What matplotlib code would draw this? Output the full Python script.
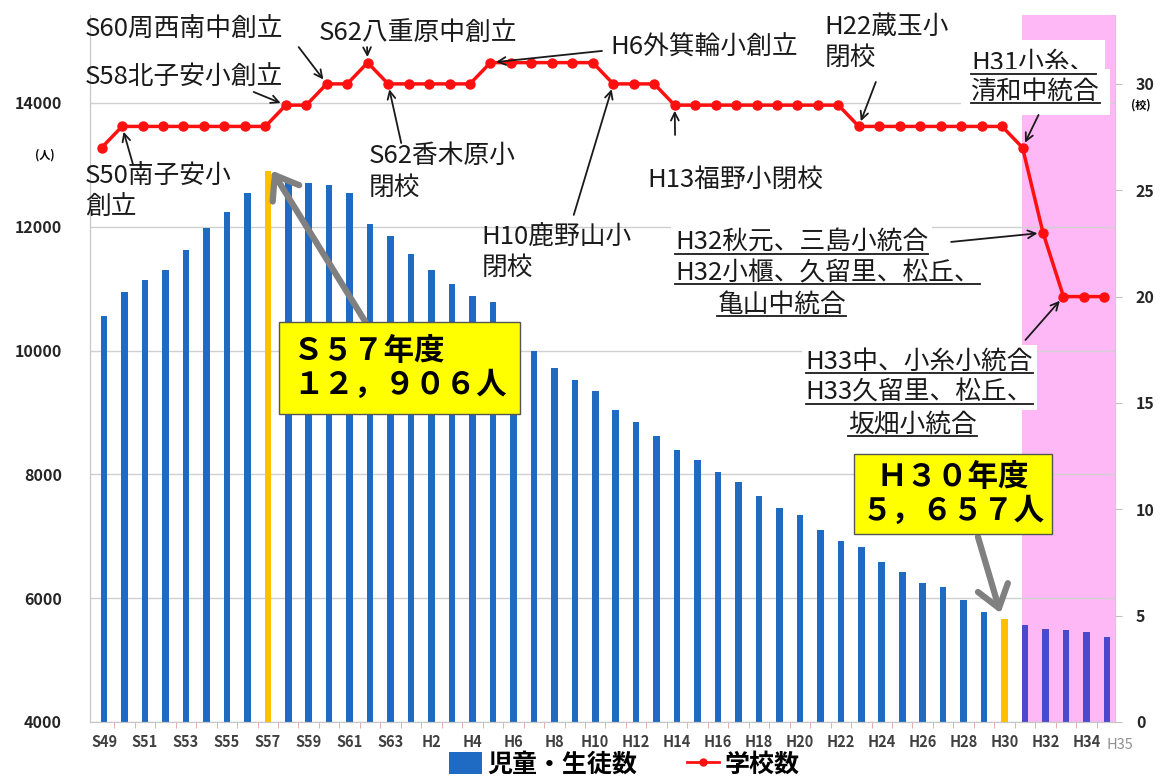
import matplotlib
matplotlib.use('Agg')
import matplotlib.pyplot as plt
from matplotlib.patches import Patch
from matplotlib.lines import Line2D

plt.rcParams['font.family'] = ['Noto Sans CJK JP', 'DejaVu Sans']

# 年度 (S49 - H35)
years = ['S49', 'S50', 'S51', 'S52', 'S53', 'S54', 'S55', 'S56', 'S57', 'S58',
         'S59', 'S60', 'S61', 'S62', 'S63', 'H1', 'H2', 'H3', 'H4', 'H5',
         'H6', 'H7', 'H8', 'H9', 'H10', 'H11', 'H12', 'H13', 'H14', 'H15',
         'H16', 'H17', 'H18', 'H19', 'H20', 'H21', 'H22', 'H23', 'H24', 'H25',
         'H26', 'H27', 'H28', 'H29', 'H30', 'H31', 'H32', 'H33', 'H34', 'H35']

# 児童・生徒数 (人)
students = [10550, 10950, 11140, 11300, 11625, 11980, 12240, 12545, 12906, 12720,
            12710, 12675, 12545, 12045, 11850, 11560, 11300, 11075, 10880, 10785,
            10400, 10000, 9720, 9525, 9350, 9040, 8845, 8620, 8395, 8230,
            8040, 7875, 7650, 7455, 7345, 7100, 6925, 6825, 6585, 6425,
            6245, 6180, 5970, 5775, 5657, 5570, 5500, 5490, 5460, 5370]

# 学校数 (校)
schools = [27, 28, 28, 28, 28, 28, 28, 28, 28, 29,
           29, 30, 30, 31, 30, 30, 30, 30, 30, 31,
           31, 31, 31, 31, 31, 30, 30, 30, 29, 29,
           29, 29, 29, 29, 29, 29, 29, 28, 28, 28,
           28, 28, 28, 28, 28, 27, 23, 20, 20, 20]

left_ticks = [4000, 6000, 8000, 10000, 12000, 14000]
right_ticks = [0, 5, 10, 15, 20, 25, 30]

BLUE = '#1f6bc4'
ORANGE = '#ffc000'
PLAN = '#4a48cc'
PINK = '#ffb8f6'

fig = plt.figure(figsize=(11.67, 7.8), dpi=100)
ax = fig.add_axes([0.0769, 0.0744, 0.8786, 0.9064])
ax2 = ax.twinx()

x = list(range(len(years)))

# planned period shading (H31 onward)
ax.axvspan(44.85, 49.6, color=PINK, zorder=0, lw=0)

colors = []
for i, y in enumerate(years):
    if y in ('S57', 'H30'):
        colors.append(ORANGE)
    elif i >= years.index('H31'):
        colors.append(PLAN)
    else:
        colors.append(BLUE)
ax.bar(x, students, width=0.32, color=colors, zorder=2)

ax2.plot([i - 0.12 for i in x], schools, color='#ff1010', lw=2.5, marker='o', ms=6.5, zorder=3)

ax.set_xlim(-0.7, 49.4)
ax.set_ylim(4000, 15420)
ax2.set_ylim(0, 33.24)

ax.set_yticks(left_ticks)
ax2.set_yticks(right_ticks)
ax.yaxis.grid(True, color='#d0d0d0', lw=1)
ax.set_axisbelow(True)

# x ticks every 2 years
tick_pos = [i for i in x if i % 2 == 0]
ax.set_xticks(tick_pos)
ax.set_xticklabels([years[i] for i in tick_pos])
ax.set_xticks([i + 0.5 for i in x[:-1]], minor=True)
ax.tick_params(axis='x', which='major', length=0, pad=9, labelsize=10.5, labelcolor='#404040')
ax.tick_params(axis='x', which='minor', length=4, color='#e0a0a0')
for lab in ax.get_xticklabels():
    lab.set_fontweight('bold')
ax.text(1.005, -0.033, years[-1], transform=ax.transAxes, fontsize=10.5, color='#909090',
        ha='center', va='center')

ax.tick_params(axis='y', length=0, pad=20, labelsize=11.5, labelcolor='#262626')
ax2.tick_params(axis='y', length=5, color='#c0c0c0', pad=10, labelsize=11.5, labelcolor='#262626')
for lab in ax.get_yticklabels() + ax2.get_yticklabels():
    lab.set_fontweight('bold')

for a in (ax, ax2):
    a.spines['top'].set_visible(False)
    a.spines['left'].set_color('#c8c8c8')
    a.spines['bottom'].set_color('#c8c8c8')
    a.spines['right'].set_color('#e0c0e0')

ax.text(-0.044, 0.802, '(人)', transform=ax.transAxes, fontsize=8, fontweight='bold', ha='center', va='center')
ax.text(1.025, 0.873, '(校)', transform=ax.transAxes, fontsize=8, fontweight='bold', ha='center', va='center')

# event labels
FS = 18.5
arrow_k = dict(arrowstyle='->', color='#1a1a1a', lw=1.3, shrinkA=0, shrinkB=4, mutation_scale=14)

plain_notes = [
    ('S60周西南中創立', -0.93, 32.53, 'center', (9.51, 31.73), 11),
    ('S58北子安小創立', -0.93, 30.28, 'center', (7.31, 29.62), 9),
    ('S50南子安小\n創立', -0.93, 26.3, 'top', (1.42, 26.19), 1),
    ('S62八重原中創立', 10.5, 32.39, 'center', (12.85, 31.73), 13),
    ('S62香木原小\n閉校', 12.95, 27.2, 'top', (14.52, 27.22), 14),
    ('H6外箕輪小創立', 24.72, 31.69, 'center', (24.33, 31.55), 19),
    ('H10鹿野山小\n閉校', 18.44, 23.4, 'top', (22.95, 23.84), 25),
    ('H13福野小閉校', 26.53, 25.48, 'center', (27.9, 27.6), 28),
    ('H22蔵玉小\n閉校', 35.21, 33.3, 'top', (37.71, 30.09), 37),
]
for txt, tx, ty, va, start, idx in plain_notes:
    ax2.text(tx, ty, txt, fontsize=FS, color='#1a1a1a', ha='left', va=va,
             linespacing=1.25, clip_on=False, zorder=6)
    ax2.annotate('', xy=(idx - 0.12, schools[idx]), xytext=start, arrowprops=arrow_k, zorder=6)

under_notes = [
    ('H31小糸、', 42.37, 30.98, 7),
    ('清和中統合', 42.37, 29.62, 7),
    ('H32秋元、三島小統合', 27.9, 22.52, 3),
    ('H32小櫃、久留里、松丘、', 27.9, 21.11, 3),
    ('亀山中統合', 29.97, 19.6, 3),
    ('H33中、小糸小統合', 34.28, 16.93, 3),
    ('H33久留里、松丘、', 34.28, 15.47, 3),
    ('坂畑小統合', 36.34, 13.96, 3),
]
underlined = []
for txt, tx, ty, pad in under_notes:
    t = ax2.text(tx, ty, txt, fontsize=FS, color='#1a1a1a', ha='left', va='center',
                 bbox=dict(fc='white', ec='none', pad=pad), zorder=7)
    underlined.append(t)

ax2.annotate('', xy=(45 - 0.12, schools[45]), xytext=(45.66, 28.54), arrowprops=arrow_k, zorder=8)
ax2.annotate('', xy=(46 - 0.12, schools[46]), xytext=(41.39, 22.57), arrowprops=arrow_k, zorder=8)
ax2.annotate('', xy=(47 - 0.12, schools[47]), xytext=(45.02, 17.96), arrowprops=arrow_k, zorder=8)

# highlighted values
gray_arrow = dict(arrowstyle='->, head_length=0.55, head_width=0.4', color='#808080',
                  lw=4.5, mutation_scale=28, shrinkA=0, shrinkB=0)
ax.annotate('', xy=(8.2, students[8]), xytext=(12.8, 10446), arrowprops=gray_arrow, zorder=5)
ax.annotate('', xy=(43.8, students[44] + 100), xytext=(42.7, 6990), arrowprops=gray_arrow, zorder=5)

box = dict(boxstyle='square,pad=0.45', fc='#ffff00', ec='#555555', lw=1)
ax.text(9.22, 9719, 'Ｓ５７年度\n１２，９０６人', fontsize=22, fontweight='bold', ha='left',
        va='center', linespacing=1.05, bbox=box, zorder=6)
box2 = dict(boxstyle='square,pad=0.25', fc='#ffff00', ec='#555555', lw=1)
ax.text(41.49, 7683, 'Ｈ３０年度\n５，６５７人', fontsize=22, fontweight='bold', ha='center',
        va='center', multialignment='center', linespacing=1.05, bbox=box2, zorder=6)

handles = [Patch(facecolor=BLUE), Line2D([], [], color='#ff1010', marker='o', lw=2, ms=5)]
fig.legend(handles, ['児童・生徒数', '学校数'], loc='center', bbox_to_anchor=(0.535, 0.02),
           ncol=2, frameon=False, prop=dict(size=18, weight='bold'), handlelength=1.3,
           handleheight=1.0, handletextpad=0.2, columnspacing=2.0)

# underline the merger notes
fig.canvas.draw()
r = fig.canvas.get_renderer()
inv = fig.transFigure.inverted()
for t in underlined:
    bb = t.get_window_extent(r)
    (x0, y0), (x1, _) = inv.transform([(bb.x0, bb.y0 + 2), (bb.x1, bb.y1)])
    fig.add_artist(Line2D([x0, x1], [y0, y0], color='#1a1a1a', lw=1.3, zorder=20))

fig.savefig('out.png', dpi=100)
